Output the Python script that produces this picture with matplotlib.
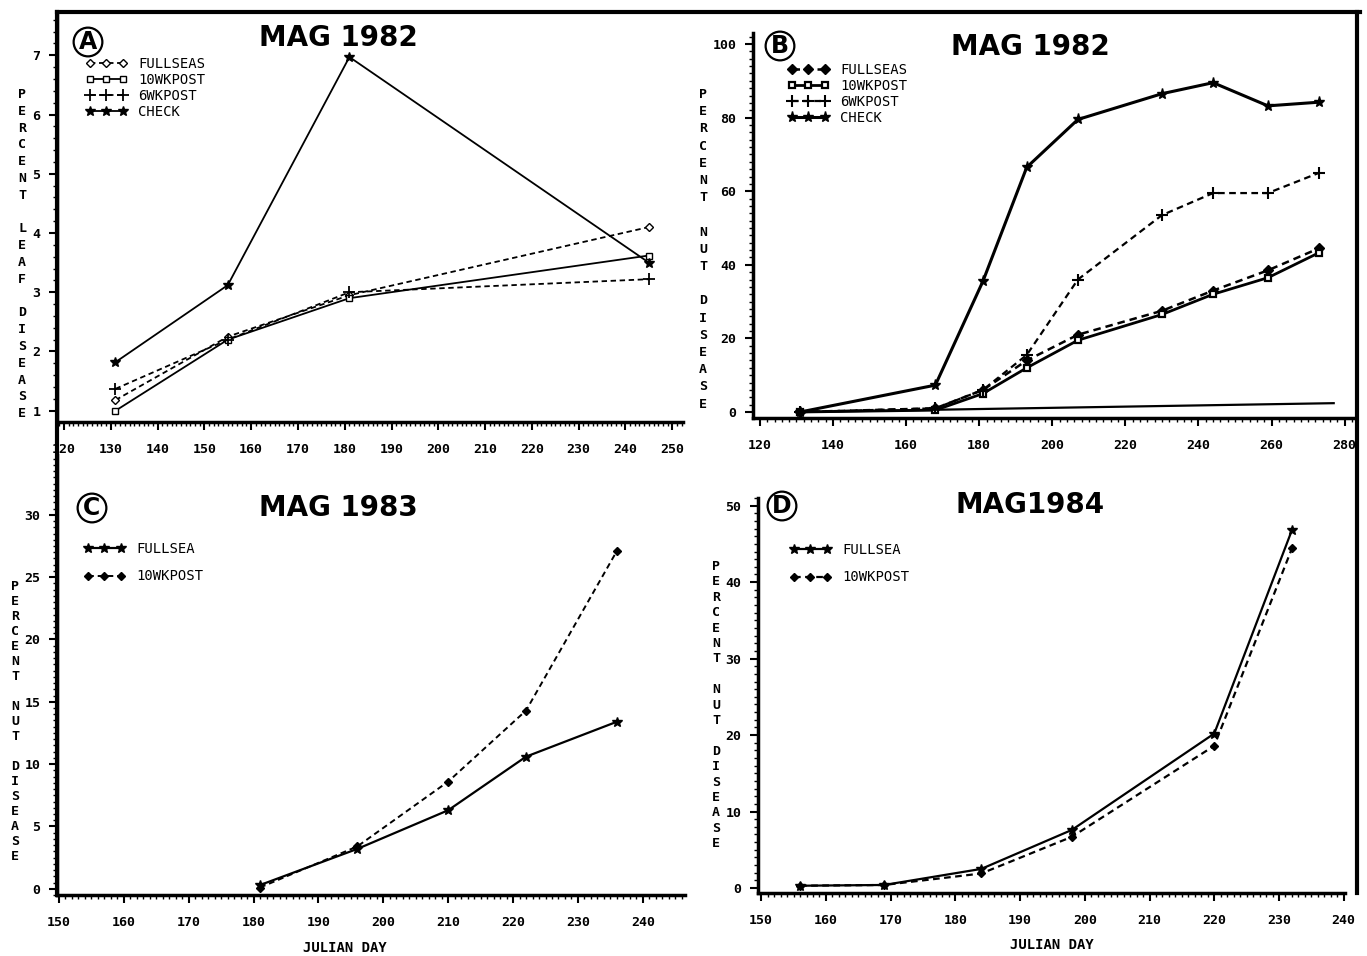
import numpy as np
import matplotlib
matplotlib.use("Agg")
import matplotlib.pyplot as plt
from matplotlib.lines import Line2D
from matplotlib.ticker import MultipleLocator

# panel A - percent leaf disease 1982
a_days = [131, 155, 181, 245]
a_fullseas = [1.18, 2.25, 2.95, 4.1]
a_10wk = [1.0, 2.2, 2.9, 3.62]
a_6wk = [1.37, 2.2, 3.0, 3.22]
a_check = [1.82, 3.12, 6.97, 3.5]

# panel B - percent nut disease 1982
b_days = [131, 168, 181, 193, 207, 230, 244, 259, 273]
b_fullseas = [0, 1.0, 6.0, 14.0, 21.0, 27.5, 33.0, 38.5, 44.5]
b_10wk = [0, 0.5, 5.0, 12.0, 19.5, 26.5, 32.0, 36.5, 43.3]
b_6wk = [0, 1.0, 6.0, 15.5, 36.0, 53.5, 59.5, 59.5, 65.0]
b_check = [0, 7.3, 35.5, 66.5, 79.5, 86.5, 89.5, 83.2, 84.2]
b_base_x = [131, 277]
b_base_y = [0, 2.4]

# panel C - 1983
c_days = [181, 196, 210, 222, 236]
c_fullsea = [0.3, 3.2, 6.3, 10.6, 13.4]
c_10wk = [0.1, 3.4, 8.6, 14.3, 27.1]

# panel D - 1984
d_days = [156, 169, 184, 198, 220, 232]
d_fullsea = [0.3, 0.4, 2.5, 7.6, 20.2, 46.8]
d_10wk = [0.3, 0.4, 1.9, 6.7, 18.6, 44.4]

W, H = 1367, 956
fig = plt.figure(figsize=(W / 100, H / 100), dpi=100)
MONO = "DejaVu Sans Mono"
DASH = (0, (3, 2))


def px(x, y):
    return x / W, 1 - y / H


def make_ax(l, r, b, t, xlim, ylim, xmaj, xmin, ymaj, ymin):
    ax = fig.add_axes([l / W, 1 - b / H, (r - l) / W, (b - t) / H])
    ax.set_xlim(*xlim)
    ax.set_ylim(*ylim)
    for s in ["top", "right"]:
        ax.spines[s].set_visible(False)
    ax.spines["left"].set_linewidth(2.5)
    ax.spines["bottom"].set_linewidth(2.5)
    ax.xaxis.set_major_locator(MultipleLocator(xmaj))
    ax.xaxis.set_minor_locator(MultipleLocator(xmin))
    ax.yaxis.set_major_locator(MultipleLocator(ymaj))
    ax.yaxis.set_minor_locator(MultipleLocator(ymin))
    ax.tick_params(which="major", direction="out", length=6, width=1.5, labelsize=9.5, pad=6)
    ax.tick_params(which="minor", direction="out", length=3, width=1)
    ax.tick_params(axis="x", which="major", pad=9)
    for lab in ax.get_xticklabels() + ax.get_yticklabels():
        lab.set_family(MONO)
        lab.set_fontweight("bold")
    return ax


def vlabel(x, y, words, gap):
    txt = "\n\n".join("\n".join(w) for w in words)
    fig.text(*px(x, y), txt, family=MONO, fontweight="bold", fontsize=9.5,
             ha="center", va="top", linespacing=gap)


def circ(x, y, letter):
    fig.text(*px(x, y), letter, fontsize=17, fontweight="bold", ha="center", va="center",
             bbox=dict(boxstyle="circle,pad=0.1", fc="white", ec="black", lw=1.6))


def title(x, y, s):
    fig.text(*px(x, y), s, fontsize=20, fontweight="bold", ha="center", va="center")


def legend(ax, x, y, spacing):
    leg = ax.legend(loc="upper left", bbox_to_anchor=px(x, y), bbox_transform=fig.transFigure,
                    frameon=False, numpoints=3, handlelength=3.0, labelspacing=spacing,
                    handletextpad=0.8, borderaxespad=0, prop=dict(family=MONO, size=10))
    return leg


k = dict(color="black")

# ---- A ----
axA = make_ax(57, 683, 422, 12, (118.5, 252.3), (0.81, 7.73), 10, 1, 1, 0.2)
axA.plot(a_days, a_fullseas, ls=DASH, lw=1.3, marker="D", ms=4, mfc="white", label="FULLSEAS", **k)
axA.plot(a_days, a_10wk, ls="-", lw=1.3, marker="s", ms=5, mfc="white", label="10WKPOST", **k)
axA.plot(a_days, a_6wk, ls=DASH, lw=1.3, marker="+", ms=8, mew=1.3, label="6WKPOST", **k)
axA.plot(a_days, a_check, ls="-", lw=1.3, marker="*", ms=7, label="CHECK", **k)
legend(axA, 80, 51, 0.15)

# ---- B ----
axB = make_ax(753, 1356, 418, 33, (118.1, 283.1), (-1.63, 103.0), 20, 2, 20, 2)
axB.plot(b_days, b_fullseas, ls=DASH, lw=1.8, marker="D", ms=5, label="FULLSEAS", **k)
axB.plot(b_days, b_10wk, ls="-", lw=2.0, marker="s", ms=5, mfc="white", mew=1.6, label="10WKPOST", **k)
axB.plot(b_days, b_6wk, ls=DASH, lw=1.6, marker="+", ms=8, mew=1.5, label="6WKPOST", **k)
axB.plot(b_days, b_check, ls="-", lw=2.2, marker="*", ms=8, label="CHECK", **k)
axB.plot(b_base_x, b_base_y, ls="-", lw=1.6, **k)
legend(axB, 782, 57, 0.15)

# ---- C ----
axC = make_ax(57, 685, 895, 455, (149.7, 246.5), (-0.5, 34.8), 10, 1, 5, 0.5)
axC.plot(c_days, c_fullsea, ls="-", lw=1.6, marker="*", ms=7, label="FULLSEA", **k)
axC.plot(c_days, c_10wk, ls=DASH, lw=1.4, marker="D", ms=4, label="10WKPOST", **k)
legend(axC, 78, 536, 1.0)

# ---- D ----
axD = make_ax(758, 1345, 893, 498, (149.5, 240.2), (-0.65, 51.0), 10, 1, 10, 1)
axD.plot(d_days, d_fullsea, ls="-", lw=1.6, marker="*", ms=7, label="FULLSEA", **k)
axD.plot(d_days, d_10wk, ls=DASH, lw=1.6, marker="D", ms=4, label="10WKPOST", **k)
legend(axD, 784, 537, 1.0)

# titles, panel letters
title(338, 38, "MAG 1982")
title(1030, 47, "MAG 1982")
title(338, 508, "MAG 1983")
title(1030, 505, "MAG1984")
circ(88, 42, "A")
circ(780, 46, "B")
circ(92, 508, "C")
circ(782, 506, "D")

# stacked y labels
vlabel(22, 88, ["PERCENT", "LEAF", "DISEASE"], 1.38)
vlabel(703, 88, ["PERCENT", "NUT", "DISEASE"], 1.42)
vlabel(15, 580, ["PERCENT", "NUT", "DISEASE"], 1.2)
vlabel(716, 560, ["PERCENT", "NUT", "DISEASE"], 1.24)

fig.text(*px(345, 948), "JULIAN DAY", family=MONO, fontweight="bold", fontsize=10, ha="center", va="center")
fig.text(*px(1052, 945), "JULIAN DAY", family=MONO, fontweight="bold", fontsize=10, ha="center", va="center")

# page frame
for xs, ys in [([57, 1360], [12, 12]), ([1357, 1357], [12, 893]), ([57, 57], [12, 895])]:
    fig.add_artist(Line2D([x / W for x in xs], [1 - y / H for y in ys], color="black", lw=3))

fig.savefig("out.png", dpi=100, facecolor="white")
